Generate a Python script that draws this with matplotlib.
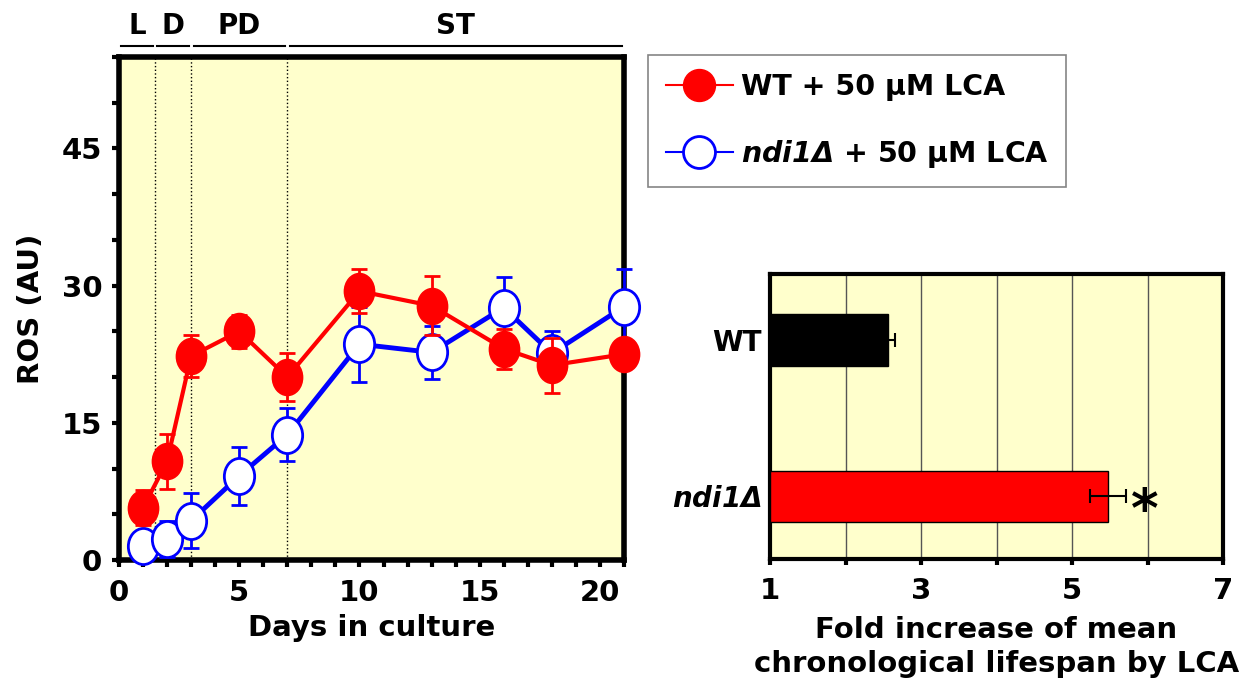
import matplotlib
matplotlib.use("Agg")
import matplotlib.pyplot as plt
import matplotlib.transforms as mtransforms
from matplotlib.ticker import MultipleLocator, FixedLocator
from matplotlib.path import Path
from matplotlib.lines import Line2D

plt.rcParams['font.family'] = 'DejaVu Sans'
plt.rcParams['font.weight'] = 'bold'
plt.rcParams['axes.labelweight'] = 'bold'
plt.rcParams['mathtext.fontset'] = 'dejavusans'

# ROS time course
days = [1, 2, 3, 5, 7, 10, 13, 16, 18, 21]
wt_ros = [5.7, 10.8, 22.3, 25.0, 20.0, 29.4, 27.8, 23.1, 21.3, 22.5]
wt_err = [1.9, 3.0, 2.3, 1.8, 2.6, 2.4, 3.2, 2.2, 3.0, 1.5]
ndi_ros = [1.5, 2.3, 4.3, 9.2, 13.7, 23.6, 22.7, 27.6, 22.6, 27.7]
ndi_err = [1.0, 2.0, 3.0, 3.2, 2.9, 4.1, 2.9, 3.3, 2.4, 4.1]

# growth phases along the top
phases = ['L', 'D', 'PD', 'ST']
phase_edges = [0, 1.5, 3, 7, 21]

# fold increase of mean CLS by LCA
strains = ['WT', r'$\mathbfit{ndi1\Delta}$']
fold = [2.56, 5.48]
fold_err = [0.1, 0.24]
bar_colors = ['black', 'red']

bg = '#FFFFCC'
circ = Path.unit_circle()
oval = Path(circ.vertices * [0.84, 1.0], circ.codes)

fig = plt.figure(figsize=(12.42, 6.81), dpi=100)

# ---- left panel: ROS ----
ax = fig.add_axes([119/1242, 121/681, 505/1242, 503/681])
ax.set_facecolor(bg)
for x in phase_edges[1:-1]:
    ax.axvline(x, color='black', ls=':', lw=1, zorder=1)

eb1 = ax.errorbar(days, ndi_ros, yerr=ndi_err, color='blue', lw=3.5, elinewidth=2,
                  capsize=6, capthick=2, marker=oval, ms=26, mfc='white', mec='blue',
                  mew=2, zorder=3)
eb2 = ax.errorbar(days, wt_ros, yerr=wt_err, color='red', lw=3, elinewidth=2,
                  capsize=6, capthick=2, marker=oval, ms=26, mfc='red', mec='red',
                  zorder=4)
for eb in (eb1, eb2):
    for art in eb.get_children():
        art.set_clip_on(False)

ax.set_xlim(0, 21)
ax.set_ylim(0, 55)
ax.xaxis.set_major_locator(FixedLocator([0, 5, 10, 15, 20]))
ax.xaxis.set_minor_locator(MultipleLocator(1))
ax.yaxis.set_major_locator(FixedLocator([0, 15, 30, 45]))
ax.yaxis.set_minor_locator(MultipleLocator(5))
ax.tick_params(which='both', direction='out', length=5, width=3, labelsize=21)
ax.tick_params(axis='x', pad=9)
ax.tick_params(axis='y', pad=7)
for s in ax.spines.values():
    s.set_linewidth(4)
ax.set_xlabel('Days in culture', fontsize=21, labelpad=5)
ax.set_ylabel('ROS (AU)', fontsize=21, labelpad=12)

trans = mtransforms.blended_transform_factory(ax.transData, ax.transAxes)
for i, name in enumerate(phases):
    a, b = phase_edges[i], phase_edges[i + 1]
    ax.plot([a + 0.1, b - 0.1], [1.022, 1.022], color='black', lw=1.5,
            transform=trans, clip_on=False)
    ax.text((a + b) / 2, 1.033, name, transform=trans, ha='center', va='bottom',
            fontsize=20)

handles = [Line2D([], [], color='red', lw=1.5, marker='o', ms=23, mfc='red', mec='red'),
           Line2D([], [], color='blue', lw=1.5, marker='o', ms=23, mfc='white',
                  mec='blue', mew=2)]
labels = ['WT + 50 µM LCA', r'$\mathbfit{ndi1\Delta}$ + 50 µM LCA']
leg = fig.legend(handles, labels, loc='upper left', bbox_to_anchor=(648/1242, 1 - 55/681),
                 fontsize=20.5, fancybox=False, edgecolor='#666666', handlelength=2.35,
                 labelspacing=1.3, borderpad=0.62, handletextpad=0.28, borderaxespad=0)
leg.get_frame().set_linewidth(1.2)

# ---- right panel: fold increase ----
ax2 = fig.add_axes([770/1242, 122/681, 453/1242, 285/681])
ax2.set_facecolor(bg)
ypos = [1, 0]
ax2.barh(ypos, [f - 1 for f in fold], left=1, height=0.33, color=bar_colors,
         edgecolor='black', lw=1, zorder=3)
ax2.errorbar(fold, ypos, xerr=fold_err, fmt='none', ecolor='black', elinewidth=1.5,
             capsize=5, capthick=1.5, zorder=4)
ax2.text(fold[1] + fold_err[1] + 0.25, ypos[1] - 0.1, '*', fontsize=38, ha='center',
         va='center')
ax2.set_xlim(1, 7)
ax2.set_ylim(-0.4, 1.42)
ax2.xaxis.set_major_locator(FixedLocator([1, 3, 5, 7]))
ax2.xaxis.set_minor_locator(FixedLocator([2, 4, 6]))
ax2.grid(axis='x', which='both', color='#555555', lw=1, zorder=1)
ax2.set_yticks(ypos)
ax2.set_yticklabels(strains, fontsize=20)
ax2.tick_params(axis='y', length=0, pad=6)
ax2.tick_params(axis='x', which='both', direction='out', length=4, width=3,
                labelsize=21, pad=9)
for s in ax2.spines.values():
    s.set_linewidth(3)
ax2.set_xlabel('Fold increase of mean\nchronological lifespan by LCA', fontsize=21,
               labelpad=8, linespacing=1.25)

fig.savefig('out.png', dpi=100)
